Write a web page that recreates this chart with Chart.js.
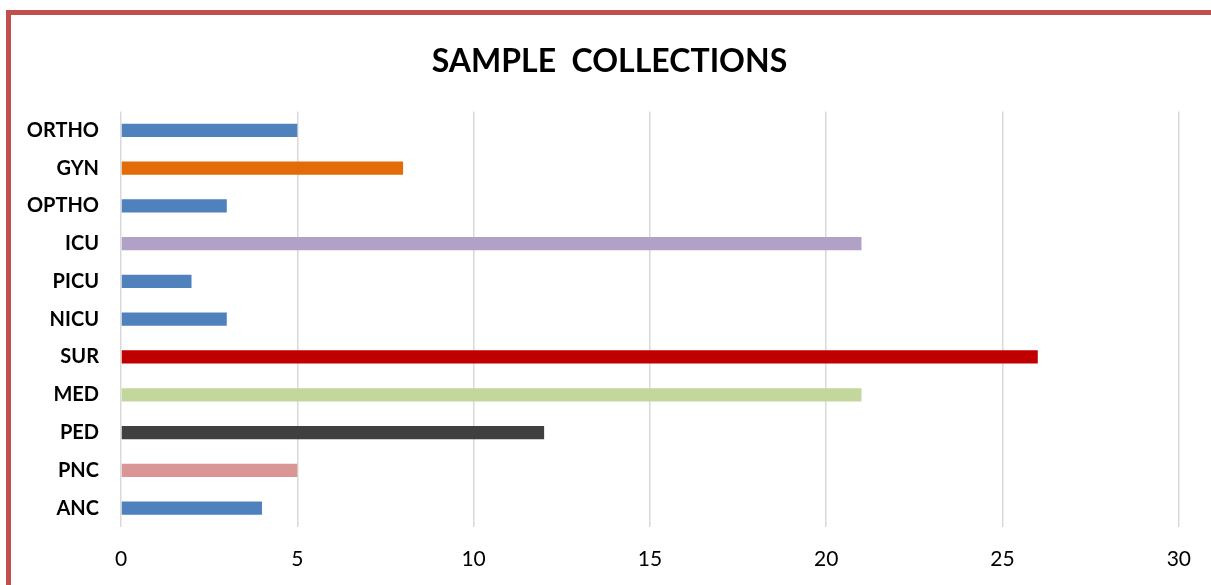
<!DOCTYPE html>
<html>
<head>
<meta charset="utf-8">
<script src="https://cdn.jsdelivr.net/npm/chart.js@4/dist/chart.umd.min.js"></script>
<style>
  html, body { margin: 0; padding: 0; background: #fff; overflow: hidden; }
  #wrap { position: relative; width: 1211px; height: 585px; }
  #frame {
    position: absolute; left: 6px; top: 10px; width: 1300px; height: 700px;
    border-left: 5px solid #C0504D; border-top: 5px solid #C0504D; box-sizing: border-box;
  }
  canvas { position: absolute; left: 0; top: 0; }
</style>
</head>
<body>
<div id="wrap">
  <div id="frame"></div>
  <canvas id="c" width="1211" height="585"></canvas>
</div>
<script>
// Ward names (top to bottom) and the number of samples collected from each
const wards = ['ORTHO', 'GYN', 'OPTHO', 'ICU', 'PICU', 'NICU', 'SUR', 'MED', 'PED', 'PNC', 'ANC'];
const sampleCounts = [5, 8, 3, 21, 2, 3, 26, 21, 12, 5, 4];
const barColors = ['#4F81BD', '#E36C09', '#4F81BD', '#B2A1C7', '#4F81BD', '#4F81BD',
                   '#C00000', '#C3D69B', '#404040', '#D99694', '#4F81BD'];
const xTicks = [0, 5, 10, 15, 20, 25, 30];

const FONT = 'Lato, "Open Sans", sans-serif';

// Centre the title over the whole frame rather than the padded layout box
const titleCentering = {
  id: 'titleCentering',
  afterLayout(chart) {
    const t = chart.titleBlock;
    if (t) { t.left = 40; t.right = chart.chartArea.right; t.width = t.right - t.left; }
  }
};

new Chart(document.getElementById('c'), {
  type: 'bar',
  data: {
    labels: wards,
    datasets: [{
      data: sampleCounts,
      backgroundColor: barColors,
      borderWidth: 0,
      barPercentage: 0.35,
      categoryPercentage: 1.0
    }]
  },
  options: {
    indexAxis: 'y',
    responsive: false,
    animation: false,
    layout: { padding: { left: 0, right: 31, top: 0, bottom: 0 } },
    plugins: {
      legend: { display: false },
      tooltip: { enabled: false },
      title: {
        display: true,
        text: 'SAMPLE  COLLECTIONS',
        color: '#000',
        font: { family: FONT, size: 32, weight: 'bold' },
        padding: { top: 42, bottom: 31 }
      }
    },
    scales: {
      x: {
        min: 0, max: 30,
        afterBuildTicks: s => { s.ticks = xTicks.map(v => ({ value: v })); },
        grid: { color: '#D9D9D9', lineWidth: 1.5, drawTicks: false },
        border: { display: false },
        ticks: { color: '#000', font: { family: FONT, size: 21 }, padding: 20 },
        afterFit: s => { s.height = 58; }
      },
      y: {
        grid: { display: false, drawTicks: false },
        border: { display: false },
        ticks: { color: '#000', font: { family: FONT, size: 20, weight: 'bold' }, padding: 22 },
        afterFit: s => { s.width = 121; }
      }
    }
  },
  plugins: [titleCentering]
});
</script>
</body>
</html>
